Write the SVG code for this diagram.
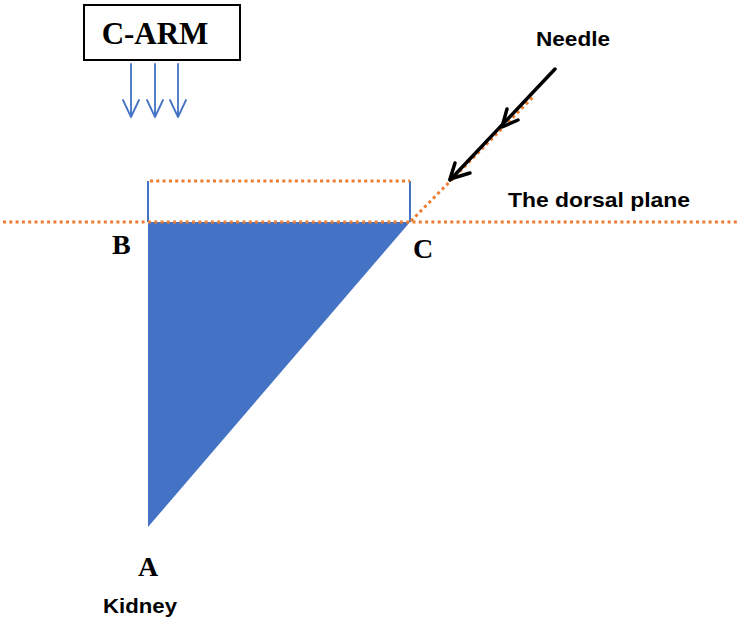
<svg xmlns="http://www.w3.org/2000/svg" width="750" height="624" viewBox="0 0 750 624">
<style>
.serif{font-family:"Liberation Serif","Times New Roman",serif;font-weight:bold;fill:#000}
.sans{font-family:"Liberation Sans",Arial,sans-serif;font-weight:bold;fill:#000}
.dot{stroke:#ED7D31;stroke-width:3;stroke-dasharray:3 3.3;fill:none}
.blue{stroke:#4472C4;stroke-width:2;fill:none}
.xray{stroke:#4472C4;stroke-width:1.8;fill:none;stroke-linecap:round;stroke-linejoin:round}
.needle{stroke:#000;stroke-width:3.5;fill:none;stroke-linecap:round;stroke-linejoin:round}
</style>
<rect width="750" height="624" fill="#fff"/>
<g id="carm">
<rect x="84" y="5" width="156" height="55" fill="#fff" stroke="#000" stroke-width="2"/>
<text class="serif" x="155" y="44" font-size="31" text-anchor="middle">C-ARM</text>
</g>
<g id="xrays">
<path class="xray" d="M131 64V117M123 100L131 117L139 100"/>
<path class="xray" d="M155 64V117M147 100L155 117L163 100"/>
<path class="xray" d="M178 64V117M170 100L178 117L186 100"/>
</g>
<g id="kidney-triangle">
<polygon points="148,222 410,222 148,527" fill="#4472C4"/>
</g>
<g id="connectors">
<line class="blue" x1="148" y1="181" x2="148" y2="222"/>
<line class="blue" x1="410" y1="181" x2="410" y2="222"/>
<line class="dot" x1="150" y1="181" x2="410" y2="181"/>
<line class="dot" x1="3" y1="222" x2="740" y2="222"/>
<line class="dot" x1="411" y1="221" x2="533" y2="97"/>
</g>
<g id="needle">
<path class="needle" d="M555 69L450 180"/>
<path class="needle" d="M507 109L502 127L518 120"/>
<path class="needle" d="M455 163L450 179L470 173"/>
</g>
<g id="labels">
<text class="sans" x="536" y="46" font-size="21" textLength="74" lengthAdjust="spacingAndGlyphs">Needle</text>
<text class="sans" x="508" y="207" font-size="21" textLength="182" lengthAdjust="spacingAndGlyphs">The dorsal plane</text>
<text class="serif" x="112" y="254" font-size="28">B</text>
<text class="serif" x="413" y="258" font-size="28">C</text>
<text class="serif" x="138" y="576" font-size="28">A</text>
<text class="sans" x="103" y="613" font-size="21" textLength="74" lengthAdjust="spacingAndGlyphs">Kidney</text>
</g>
</svg>
